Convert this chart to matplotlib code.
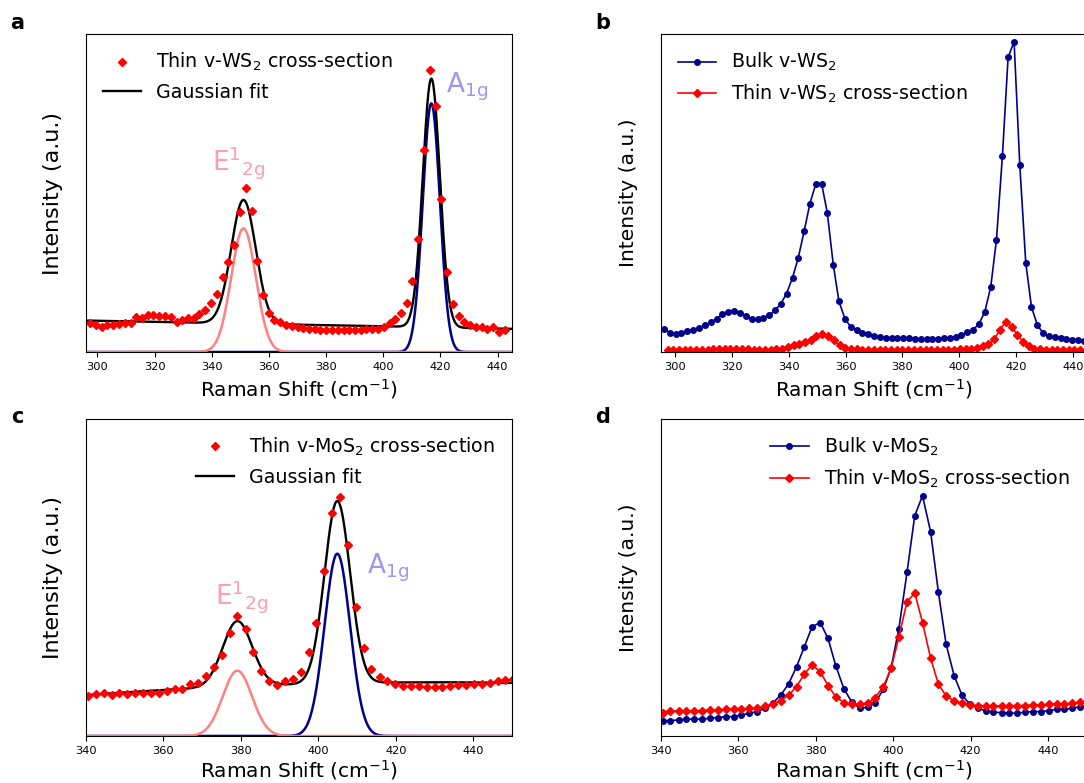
import numpy as np
import matplotlib.pyplot as plt

# ---- WS2 data ----
ws2_bulk_shift = [296.3, 298.3, 300.4, 302.4, 304.5, 306.5, 308.6, 310.6, 312.7, 314.7,
                  316.8, 318.8, 320.9, 322.9, 325.0, 327.0, 329.1, 331.1, 333.2, 335.2,
                  337.3, 339.3, 341.4, 343.4, 345.5, 347.5, 349.6, 351.6, 353.6, 355.7,
                  357.7, 359.8, 361.8, 363.9, 365.9, 368.0, 370.0, 372.1, 374.1, 376.2,
                  378.2, 380.3, 382.3, 384.4, 386.4, 388.5, 390.5, 392.6, 394.6, 396.6,
                  398.7, 400.7, 402.8, 404.8, 406.9, 408.9, 411.0, 413.0, 415.1, 417.1,
                  419.2, 421.2, 423.3, 425.3, 427.4, 429.4, 431.5, 433.5, 435.6, 437.6,
                  439.7, 441.7, 443.8]
ws2_bulk_int = [7.3, 6.1, 5.8, 6.1, 6.5, 7.0, 7.7, 8.4, 9.4, 10.5,
                11.9, 12.7, 12.9, 12.4, 11.3, 10.3, 10.3, 10.8, 11.5, 13.1,
                15.2, 18.4, 23.4, 29.6, 38.1, 46.7, 53.0, 53.0, 43.8, 27.5,
                15.9, 10.5, 7.9, 6.8, 6.1, 5.6, 5.2, 4.7, 4.5, 4.5,
                4.4, 4.4, 4.3, 4.2, 4.1, 4.1, 4.1, 4.2, 4.3, 4.4,
                4.7, 5.4, 6.2, 7.0, 8.9, 12.6, 20.5, 35.2, 61.7, 92.7,
                97.6, 58.8, 28.0, 14.2, 8.4, 6.0, 5.0, 4.7, 4.5, 4.1,
                3.9, 3.7, 3.5]

ws2_thin_shift = [297.5, 299.5, 301.5, 303.5, 305.5, 307.6, 309.6, 311.6, 313.6, 315.6,
                  317.6, 319.6, 321.7, 323.7, 325.7, 327.7, 329.7, 331.7, 333.7, 335.7,
                  337.8, 339.8, 341.8, 343.8, 345.8, 347.8, 349.8, 351.8, 353.9, 355.9,
                  357.9, 359.9, 361.9, 363.9, 365.9, 367.9, 370.0, 372.0, 374.0, 376.0,
                  378.0, 380.0, 382.0, 384.0, 386.1, 388.1, 390.1, 392.1, 394.1, 396.1,
                  398.1, 400.1, 402.2, 404.2, 406.2, 408.2, 410.2, 412.2, 414.2, 416.2,
                  418.3, 420.3, 422.3, 424.3, 426.3, 428.3, 430.3, 432.4, 434.4, 436.4,
                  438.4, 440.4, 442.4]
# thin cross-section as plotted in panel a
ws2_thin_int_a = [9.0, 8.5, 8.0, 8.5, 8.5, 8.8, 9.2, 9.0, 11.1, 10.8,
                  11.6, 11.6, 11.3, 11.3, 11.1, 9.5, 10.1, 10.6, 10.6, 11.9,
                  13.2, 15.3, 18.2, 23.5, 28.4, 33.6, 44.0, 51.5, 44.4, 28.7,
                  17.9, 12.2, 10.1, 9.5, 8.5, 8.2, 8.0, 7.7, 7.4, 7.1,
                  6.9, 6.9, 6.9, 6.9, 6.9, 6.9, 6.9, 6.9, 7.1, 7.1,
                  7.4, 8.0, 9.0, 10.3, 12.2, 15.5, 22.3, 35.4, 63.5, 88.7,
                  77.4, 48.1, 25.3, 15.1, 11.3, 9.5, 8.5, 8.0, 7.8, 7.4,
                  7.8, 6.4, 6.9]
# same spectrum on the bulk scale (panel b)
ws2_thin_int_b = [0.6, 0.6, 0.6, 0.6, 0.6, 0.6, 0.6, 0.6, 0.8, 0.8,
                  0.8, 0.8, 0.8, 0.8, 0.8, 0.7, 0.7, 0.7, 0.7, 0.9,
                  1.1, 1.5, 2.1, 2.6, 3.1, 3.9, 5.2, 5.8, 4.9, 3.7,
                  2.1, 1.4, 1.0, 0.9, 0.7, 0.7, 0.7, 0.7, 0.7, 0.7,
                  0.7, 0.7, 0.7, 0.7, 0.7, 0.7, 0.7, 0.7, 0.7, 0.7,
                  0.7, 0.8, 0.9, 1.1, 1.4, 1.9, 2.4, 4.0, 6.9, 9.5,
                  8.0, 5.5, 3.2, 1.8, 1.1, 0.9, 0.7, 0.7, 0.7, 0.7,
                  0.7, 0.7, 0.7]

# ---- MoS2 data ----
mos2_shift = [340.5, 342.5, 344.6, 346.6, 348.6, 350.7, 352.7, 354.7, 356.8, 358.8,
              360.8, 362.9, 364.9, 366.9, 369.0, 371.0, 373.0, 375.1, 377.1, 379.1,
              381.2, 383.2, 385.2, 387.3, 389.3, 391.4, 393.4, 395.4, 397.5, 399.5,
              401.5, 403.6, 405.6, 407.6, 409.7, 411.7, 413.7, 415.8, 417.8, 419.8,
              421.9, 423.9, 425.9, 428.0, 430.0, 432.0, 434.1, 436.1, 438.1, 440.2,
              442.2, 444.2, 446.3, 448.3, 450.3]
mos2_thin_int_c = [12.6, 13.3, 13.5, 12.9, 13.7, 13.3, 13.5, 13.5, 13.7, 13.7,
                   14.3, 14.7, 14.7, 16.4, 16.8, 18.9, 21.9, 25.6, 32.6, 37.7,
                   33.7, 26.6, 20.6, 17.2, 16.1, 17.2, 17.9, 20.3, 26.6, 35.8,
                   51.9, 70.5, 75.3, 60.1, 40.6, 27.7, 21.1, 18.5, 17.2, 16.3,
                   15.8, 15.8, 15.8, 15.4, 15.6, 15.6, 15.8, 16.1, 16.1, 16.4,
                   16.4, 16.8, 17.4, 17.7, 17.9]
mos2_bulk_int_d = [4.8, 4.8, 5.1, 5.3, 5.3, 5.3, 5.6, 5.8, 6.1, 6.1,
                   6.6, 7.2, 7.7, 8.7, 10.5, 12.9, 16.4, 21.9, 28.2, 34.5,
                   35.8, 30.8, 22.2, 14.9, 10.8, 8.7, 9.1, 10.5, 14.7, 21.6,
                   33.9, 51.6, 69.5, 75.8, 64.4, 45.4, 28.9, 18.9, 12.9, 10.1,
                   8.7, 8.0, 7.5, 7.4, 7.2, 7.2, 7.5, 7.7, 7.7, 8.0,
                   8.4, 8.4, 8.7, 9.3, 9.5]
mos2_thin_int_d = [7.4, 7.9, 7.9, 7.9, 7.9, 8.0, 8.2, 8.2, 8.4, 8.4,
                   8.4, 8.7, 8.7, 9.5, 10.1, 11.2, 12.9, 15.6, 19.6, 22.4,
                   20.3, 15.9, 12.4, 10.5, 10.1, 10.1, 10.3, 12.1, 15.6, 21.4,
                   31.2, 42.4, 45.1, 35.8, 24.5, 16.4, 12.6, 11.1, 10.3, 9.8,
                   9.6, 9.5, 9.5, 9.5, 9.5, 9.6, 9.6, 9.8, 9.8, 10.0,
                   10.1, 10.1, 10.3, 10.6, 10.8]

# ---- Gaussian fit results (amplitude, centre, sigma) ----
ws2_e2g = (38.9, 351.1, 4.3)
ws2_a1g = (78.2, 416.8, 3.0)
ws2_baseline = (9.9, -0.01745)            # value at 296, slope
mos2_e2g = (20.6, 379.1, 3.8)
mos2_a1g = (57.5, 404.9, 3.3)
mos2_baseline = (12.9, 0.09, -0.0005)     # quadratic about 340


def gauss(x, p):
    amp, cen, sig = p
    return amp * np.exp(-(x - cen) ** 2 / (2 * sig ** 2))


red = '#ff0000'
navy = '#00008b'
pink_line = '#ff8080'
pink_text = '#ff9db5'
lav_text = '#a096f2'

fig = plt.figure(figsize=(10.84, 7.83), dpi=100)
ax_a = fig.add_axes([0.0793, 0.5504, 0.393, 0.4061])
ax_b = fig.add_axes([0.6095, 0.5504, 0.393, 0.4061])
ax_c = fig.add_axes([0.0793, 0.060, 0.393, 0.4049])
ax_d = fig.add_axes([0.6095, 0.060, 0.393, 0.4049])

leg_fs = 13.7
tick_fs = 8.2
xl_fs = 14.5


def style(ax, ylab_fs, xpad=4.0):
    ax.set_yticks([])
    ax.set_ylim(0, 100)
    ax.tick_params(axis='x', labelsize=tick_fs)
    ax.set_xlabel(r'Raman Shift (cm$^{-1}$)', fontsize=xl_fs, labelpad=xpad)
    ax.set_ylabel('Intensity (a.u.)', fontsize=ylab_fs)
    ax.yaxis.set_label_coords(-0.053, 0.5)


# panel a
xf = np.linspace(296, 445, 800)
base_a = ws2_baseline[0] + ws2_baseline[1] * (xf - 296)
ax_a.plot(xf, gauss(xf, ws2_a1g), color=navy, lw=1.8)
ax_a.plot(xf, gauss(xf, ws2_e2g), color=pink_line, lw=1.8)
fit_a, = ax_a.plot(xf, base_a + gauss(xf, ws2_e2g) + gauss(xf, ws2_a1g), color='black', lw=1.7)
pts_a, = ax_a.plot(ws2_thin_shift, ws2_thin_int_a, 'D', color=red, ms=4.2, ls='none')
ax_a.set_xlim(296, 445)
style(ax_a, 16)
ax_a.legend([pts_a, fit_a], [r'Thin v-WS$_2$ cross-section', 'Gaussian fit'],
            loc='upper left', frameon=False, fontsize=leg_fs, numpoints=1)
ax_a.text(349.5, 59.5, r'$\mathregular{E^1{}_{2g}}$', color=pink_text, fontsize=19,
          ha='center', va='center')
ax_a.text(429.3, 83.5, r'$\mathregular{A_{1g}}$', color=lav_text, fontsize=19,
          ha='center', va='center')

# panel b
ax_b.plot(ws2_bulk_shift, ws2_bulk_int, '-o', color=navy, lw=1.2, ms=4,
          label=r'Bulk v-WS$_2$')
ax_b.plot(ws2_thin_shift, ws2_thin_int_b, '-D', color=red, lw=1.2, ms=3.6,
          label=r'Thin v-WS$_2$ cross-section')
ax_b.set_xlim(295.1, 444.7)
style(ax_b, 14.6)
ax_b.legend(loc='upper left', frameon=False, fontsize=leg_fs)

# panel c
xf2 = np.linspace(340, 450, 800)
t = xf2 - 340
base_c = mos2_baseline[0] + mos2_baseline[1] * t + mos2_baseline[2] * t ** 2
ax_c.plot(xf2, gauss(xf2, mos2_a1g), color=navy, lw=1.8)
ax_c.plot(xf2, gauss(xf2, mos2_e2g), color=pink_line, lw=1.8)
fit_c, = ax_c.plot(xf2, base_c + gauss(xf2, mos2_e2g) + gauss(xf2, mos2_a1g), color='black', lw=1.7)
pts_c, = ax_c.plot(mos2_shift, mos2_thin_int_c, 'D', color=red, ms=4.2, ls='none')
ax_c.set_xlim(340, 450)
style(ax_c, 16, xpad=2.0)
ax_c.legend([pts_c, fit_c], [r'Thin v-MoS$_2$ cross-section', 'Gaussian fit'],
            loc='upper right', frameon=False, fontsize=leg_fs, numpoints=1)
ax_c.text(380.2, 43.9, r'$\mathregular{E^1{}_{2g}}$', color=pink_text, fontsize=19,
          ha='center', va='center')
ax_c.text(418.0, 53.0, r'$\mathregular{A_{1g}}$', color=lav_text, fontsize=19,
          ha='center', va='center')

# panel d
ax_d.plot(mos2_shift, mos2_bulk_int_d, '-o', color=navy, lw=1.2, ms=4,
          label=r'Bulk v-MoS$_2$')
ax_d.plot(mos2_shift, mos2_thin_int_d, '-D', color=red, lw=1.2, ms=3.6,
          label=r'Thin v-MoS$_2$ cross-section')
ax_d.set_xlim(340, 450)
style(ax_d, 14.6, xpad=2.0)
ax_d.legend(loc='upper right', frameon=False, fontsize=leg_fs)

for lab, (x, y) in zip('abcd', [(17, 23), (603, 23), (17, 417), (603, 417)]):
    fig.text(x / 1084, 1 - y / 783, lab, fontsize=15, fontweight='bold',
             ha='center', va='center')

fig.savefig('out.png', dpi=100)
